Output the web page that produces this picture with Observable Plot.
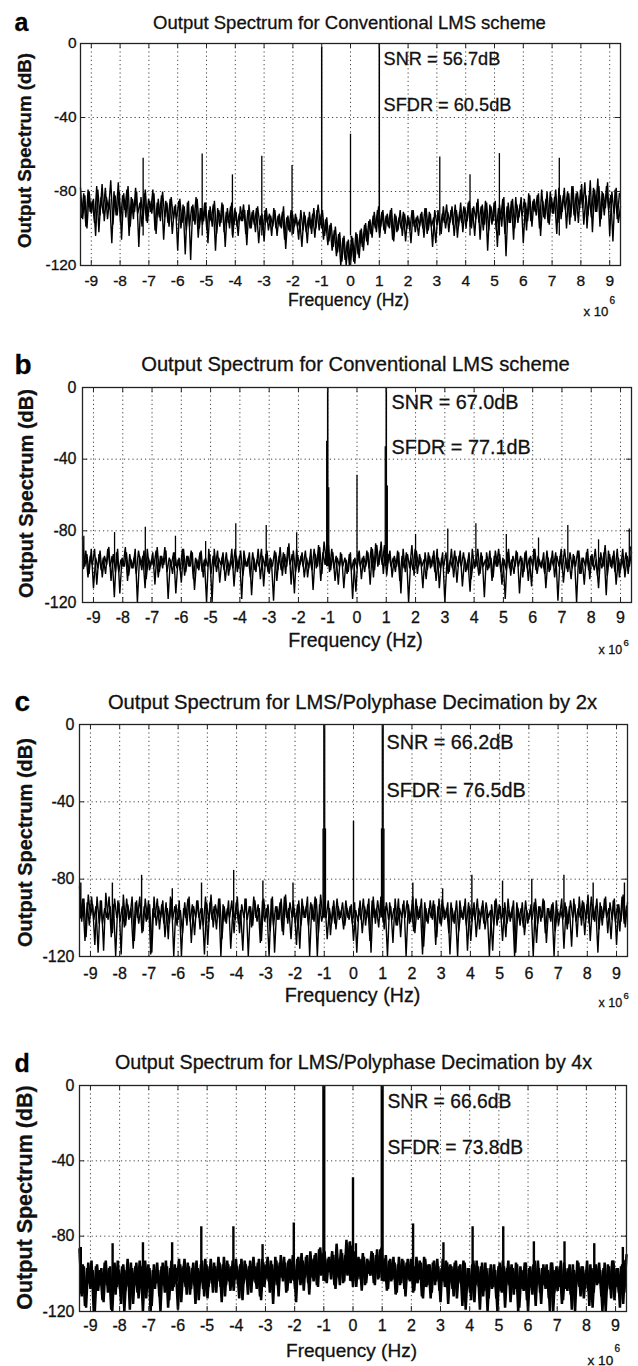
<!DOCTYPE html>
<html><head><meta charset="utf-8">
<script src="https://cdn.jsdelivr.net/npm/d3@7"></script>
<script src="https://cdn.jsdelivr.net/npm/@observablehq/plot@0.6"></script>
<style>
html,body{margin:0;padding:0;background:#fff;}
#chart{width:638px;}
#chart svg{display:block;}
#chart svg text{stroke:#111;stroke-width:0.3px;}
</style></head><body><div id="chart"></div>
<script>
// ---------------- data ----------------
const xTicks = [-9,-8,-7,-6,-5,-4,-3,-2,-1,0,1,2,3,4,5,6,7,8,9];
const yTicks = [0,-40,-80,-120];
const yGrid = [-40,-80];
const xDomainMHz = [-9.375, 9.375];
const yDomainDb = [-120, 0];

const panelLetters = ["a","b","c","d"];
const panelTitles = [
  "Output Spectrum for Conventional LMS scheme",
  "Output Spectrum for Conventional LMS scheme",
  "Output Spectrum for LMS/Polyphase Decimation by 2x",
  "Output Spectrum for LMS/Polyphase Decimation by 4x"
];
const snrLabels = ["SNR = 56.7dB","SNR = 67.0dB","SNR = 66.2dB","SNR = 66.6dB"];
const sfdrLabels = ["SFDR = 60.5dB","SFDR = 77.1dB","SFDR = 76.5dB","SFDR = 73.8dB"];
const yAxisLabel = "Output Spectrum (dB)";
const xAxisLabel = "Frequency (Hz)";
const xScaleLabel = "x 10";
const xScaleExp = "6";

// noise floor: even bins every 0.075 MHz from -9.375 MHz,
// odd bins every 0.075 MHz from -9.3375 MHz
const noiseStartMHz = -9.375;
const noiseOddStartMHz = -9.3375;
const noiseStepMHz = 0.075;

const noiseA = [
-78,-95,-82,-100,-80,-92,-84,-104,-79,-93,
-76,-96,-83,-90,-74,-98,-82,-93,-80,-106,
-81,-94,-77,-99,-84,-91,-80,-110,-83,-95,
-79,-97,-85,-92,-81,-103,-84,-96,-80,-94,
-86,-99,-83,-95,-87,-112,-84,-97,-88,-101,
-85,-117,-87,-98,-84,-100,-89,-96,-86,-108,
-88,-99,-85,-103,-90,-97,-87,-110,-89,-100,
-86,-98,-91,-104,-88,-96,-90,-109,-87,-100,
-90,-102,-88,-98,-92,-107,-89,-101,-93,-99,
-90,-104,-92,-100,-88,-111,-93,-102,-91,-99,
-94,-106,-90,-101,-93,-108,-91,-103,-89,-100,
-87,-98,-90,-104,-94,-107,-97,-110,-99,-113,
-102,-118,-104,-120,-106,-120,-105,-119,-103,-116,
-100,-112,-97,-109,-95,-105,-91,-102,-88,-99,
-90,-103,-92,-100,-89,-107,-93,-101,-90,-104,
-92,-100,-94,-108,-90,-102,-93,-99,-91,-105,
-89,-101,-92,-110,-90,-98,-93,-103,-88,-100,
-91,-97,-88,-104,-90,-99,-86,-102,-89,-96,
-85,-100,-88,-95,-84,-106,-87,-98,-86,-101,
-88,-96,-85,-110,-87,-99,-83,-115,-86,-97,
-84,-100,-87,-94,-83,-108,-86,-96,-82,-99,
-84,-93,-81,-104,-85,-95,-80,-98,-83,-92,
-79,-97,-82,-91,-78,-100,-81,-94,-77,-96,
-80,-90,-76,-98,-82,-93,-74,-102,-79,-91,
-77,-95,-81,-89,-75,-104,-80,-92,-78,-97,-88
];
const noiseA2 = [
-94,-81,-99,-79,-91,-85,-97,-77,-102,-83,
-92,-78,-95,-84,-108,-80,-93,-75,-97,-82,
-90,-79,-104,-83,-95,-78,-92,-86,-99,-81,
-96,-84,-91,-79,-101,-86,-94,-82,-106,-85,
-97,-84,-103,-88,-95,-85,-100,-87,-114,-86,
-99,-88,-96,-83,-105,-89,-98,-86,-101,-90,
-96,-87,-112,-89,-99,-86,-102,-91,-97,-88,
-105,-89,-99,-92,-96,-87,-103,-90,-100,-91,
-98,-89,-108,-93,-101,-90,-97,-92,-104,-89,
-100,-93,-99,-91,-106,-94,-101,-90,-103,-92,
-99,-95,-110,-91,-102,-94,-100,-92,-105,-90,
-101,-92,-106,-95,-109,-98,-112,-101,-115,-103,
-120,-105,-117,-107,-120,-104,-118,-102,-114,-101,
-110,-98,-107,-96,-103,-93,-100,-90,-105,-91,
-101,-93,-99,-90,-106,-92,-102,-94,-100,-91,
-107,-93,-101,-90,-99,-94,-104,-92,-100,-89,
-103,-91,-99,-94,-108,-90,-101,-92,-97,-87,
-102,-90,-98,-87,-105,-91,-97,-88,-100,-86,
-99,-89,-104,-86,-97,-88,-101,-85,-112,-87,
-98,-86,-101,-89,-95,-84,-103,-88,-97,-85,
-106,-83,-97,-87,-93,-84,-101,-81,-96,-85,
-91,-82,-100,-79,-94,-84,-97,-80,-92,-83,
-103,-78,-95,-82,-90,-80,-98,-77,-93,-81,
-97,-79,-89,-75,-100,-82,-94,-78,-91,-73,
-99,-80,-93,-77,-90,-82,-107,-79,-95,-81
];
const noiseB = [
-84,-100,-93,-104,-90,-112,-95,-101,-91,-106,
-94,-99,-89,-108,-93,-103,-90,-115,-95,-100,
-92,-105,-96,-101,-90,-120,-94,-102,-91,-107,
-95,-100,-92,-110,-89,-103,-94,-99,-91,-118,
-96,-104,-92,-101,-95,-109,-90,-103,-94,-100,
-92,-113,-96,-102,-91,-106,-95,-100,-93,-120,
-90,-103,-95,-99,-92,-108,-96,-102,-90,-111,
-94,-101,-91,-105,-96,-100,-92,-116,-95,-103,
-90,-107,-94,-100,-91,-104,-96,-119,-92,-102,
-89,-105,-93,-100,-87,-110,-91,-103,-94,-99,
-92,-106,-95,-101,-90,-113,-93,-100,-89,-104,
-86,-97,-88,-102,-92,-108,-95,-100,-93,-112,
-96,-103,-92,-118,-95,-101,-91,-107,-94,-100,
-92,-110,-90,-102,-88,-99,-86,-104,-89,-98,
-91,-106,-94,-100,-92,-115,-90,-103,-93,-101,
-88,-105,-91,-100,-95,-112,-92,-102,-94,-100,
-91,-108,-95,-101,-92,-120,-96,-103,-90,-106,
-94,-100,-91,-111,-95,-102,-92,-107,-96,-100,
-90,-104,-94,-117,-92,-101,-95,-106,-91,-100,
-93,-110,-96,-102,-90,-105,-94,-100,-92,-115,
-95,-103,-91,-108,-94,-100,-90,-104,-96,-101,
-92,-112,-95,-102,-91,-106,-94,-100,-90,-109,
-95,-103,-92,-101,-94,-120,-91,-104,-95,-100,
-90,-107,-93,-102,-96,-112,-92,-100,-88,-105,
-93,-101,-91,-110,-95,-102,-90,-106,-94,-100,-92
];
const noiseB2 = [
-101,-91,-106,-94,-99,-90,-110,-93,-102,-95,
-104,-90,-100,-94,-117,-92,-103,-96,-100,-89,
-108,-93,-101,-95,-104,-91,-99,-94,-112,-90,
-102,-96,-100,-91,-106,-94,-101,-89,-103,-95,
-99,-92,-115,-96,-102,-90,-105,-94,-100,-91,
-107,-95,-101,-92,-103,-96,-120,-90,-104,-94,
-100,-91,-109,-95,-102,-92,-105,-96,-101,-90,
-103,-94,-118,-91,-100,-95,-106,-92,-102,-96,
-100,-90,-111,-93,-103,-95,-100,-91,-108,-94,
-102,-92,-104,-89,-99,-93,-115,-90,-103,-94,
-100,-91,-106,-95,-102,-90,-101,-88,-108,-92,
-99,-87,-103,-90,-101,-94,-110,-92,-100,-95,
-104,-93,-102,-96,-114,-92,-100,-95,-103,-91,
-101,-89,-106,-87,-100,-91,-99,-88,-105,-93,
-100,-95,-103,-91,-108,-94,-101,-92,-120,-95,
-102,-90,-104,-93,-100,-96,-107,-92,-101,-94,
-103,-90,-112,-95,-100,-92,-104,-96,-101,-91,
-109,-94,-100,-92,-103,-96,-114,-90,-101,-95,
-105,-92,-100,-96,-102,-91,-108,-94,-100,-90,
-103,-95,-118,-92,-101,-96,-104,-91,-100,-94,
-106,-92,-101,-95,-111,-90,-102,-94,-100,-96,
-104,-91,-103,-95,-100,-92,-119,-94,-102,-90,
-101,-96,-107,-93,-100,-91,-104,-95,-110,-92,
-102,-94,-100,-90,-105,-95,-101,-92,-116,-91,
-100,-94,-103,-90,-106,-95,-101,-92,-104,-89
];
const noiseC = [
-84,-102,-90,-110,-88,-99,-93,-114,-89,-103,
-91,-117,-87,-101,-94,-108,-90,-100,-92,-119,
-88,-104,-93,-100,-89,-112,-91,-103,-95,-107,
-90,-101,-93,-118,-89,-104,-94,-100,-91,-110,
-95,-103,-90,-120,-93,-101,-96,-108,-92,-104,
-89,-113,-94,-100,-91,-106,-95,-119,-92,-102,
-88,-105,-93,-100,-90,-111,-94,-103,-91,-116,
-95,-101,-89,-108,-93,-100,-90,-120,-94,-104,
-91,-102,-95,-112,-90,-100,-93,-107,-89,-118,
-94,-101,-90,-109,-88,-103,-92,-100,-95,-114,
-91,-104,-94,-100,-89,-120,-93,-102,-90,-108,
-88,-100,-92,-111,-95,-103,-91,-106,-94,-100,
-92,-104,-95,-101,-93,-112,-96,-102,-91,-108,
-94,-100,-90,-118,-89,-103,-91,-100,-88,-106,
-92,-101,-94,-113,-90,-104,-95,-100,-91,-120,
-93,-102,-89,-108,-94,-100,-90,-115,-95,-103,
-91,-101,-93,-110,-90,-104,-94,-100,-92,-119,
-95,-103,-91,-107,-96,-101,-90,-117,-94,-102,
-92,-110,-95,-100,-91,-106,-96,-120,-93,-104,
-90,-101,-94,-112,-92,-103,-96,-100,-91,-118,
-95,-104,-92,-109,-96,-101,-93,-120,-90,-103,
-94,-100,-91,-113,-95,-102,-92,-107,-96,-100,
-90,-116,-94,-103,-91,-100,-93,-110,-89,-104,
-92,-101,-88,-112,-93,-102,-90,-106,-94,-100,
-89,-108,-92,-101,-90,-114,-93,-102,-88,-105,-92
];
const noiseC2 = [
-100,-90,-112,-92,-104,-89,-101,-94,-118,-91,
-103,-95,-100,-89,-110,-93,-120,-91,-102,-94,
-105,-90,-101,-95,-116,-92,-100,-89,-108,-94,
-102,-91,-119,-95,-100,-90,-106,-93,-103,-92,
-111,-89,-101,-94,-104,-91,-120,-95,-100,-90,
-102,-93,-109,-91,-100,-95,-104,-89,-114,-92,
-101,-94,-106,-90,-120,-93,-102,-95,-100,-91,
-108,-92,-103,-96,-117,-90,-101,-94,-105,-89,
-100,-93,-113,-91,-102,-95,-120,-90,-104,-94,
-101,-92,-107,-89,-100,-95,-111,-91,-103,-93,
-116,-90,-100,-94,-104,-92,-101,-89,-120,-93,
-102,-95,-100,-91,-109,-94,-103,-90,-101,-96,
-106,-91,-100,-94,-103,-92,-118,-95,-101,-90,
-104,-93,-112,-91,-100,-95,-105,-89,-102,-94,
-120,-92,-101,-95,-104,-90,-110,-93,-100,-91,
-103,-96,-107,-90,-101,-94,-119,-92,-102,-95,
-100,-91,-114,-94,-103,-90,-101,-95,-108,-92,
-102,-96,-120,-91,-100,-94,-104,-92,-112,-95,
-101,-90,-106,-94,-103,-92,-100,-96,-117,-91,
-104,-93,-101,-95,-110,-90,-102,-94,-120,-92,
-100,-95,-105,-91,-103,-96,-101,-92,-113,-94,
-102,-90,-108,-95,-100,-93,-120,-91,-104,-96,
-101,-92,-106,-94,-115,-90,-102,-95,-100,-91,
-109,-93,-103,-89,-101,-94,-118,-92,-104,-90,
-100,-95,-111,-91,-102,-93,-107,-89,-103,-94
];
const noiseD = [
-87,-112,-96,-118,-94,-108,-98,-120,-95,-106,
-97,-115,-93,-110,-96,-120,-94,-107,-98,-116,
-95,-109,-92,-119,-97,-106,-94,-113,-96,-120,
-93,-108,-97,-117,-95,-105,-98,-120,-94,-110,
-96,-114,-93,-107,-97,-119,-95,-104,-92,-111,
-96,-108,-94,-116,-97,-105,-93,-112,-95,-107,
-92,-110,-96,-104,-94,-115,-91,-106,-95,-109,
-93,-103,-96,-113,-92,-105,-95,-111,-93,-104,
-96,-108,-92,-114,-94,-103,-91,-110,-95,-106,
-93,-112,-90,-104,-94,-109,-92,-103,-95,-115,
-91,-106,-93,-102,-90,-111,-92,-104,-89,-107,
-86,-100,-88,-105,-91,-103,-90,-108,-93,-106,
-89,-104,-82,-100,-85,-107,-90,-103,-92,-109,
-91,-105,-93,-101,-89,-106,-87,-102,-86,-104,
-90,-108,-92,-103,-94,-110,-91,-105,-93,-112,
-92,-104,-95,-109,-91,-103,-94,-113,-92,-106,
-95,-110,-93,-104,-96,-115,-92,-107,-94,-103,
-96,-112,-93,-105,-95,-117,-94,-108,-97,-114,
-93,-106,-96,-119,-94,-109,-97,-113,-95,-107,
-98,-120,-94,-110,-96,-106,-93,-115,-97,-108,
-95,-118,-98,-109,-94,-120,-96,-111,-93,-106,
-97,-116,-95,-108,-98,-120,-94,-110,-96,-107,
-93,-114,-97,-109,-95,-119,-98,-106,-94,-112,
-96,-108,-93,-117,-97,-110,-95,-105,-98,-120,
-94,-109,-96,-113,-93,-107,-97,-118,-95,-110,-90
];
const noiseD2 = [
-110,-95,-117,-97,-105,-93,-120,-96,-109,-98,
-114,-94,-106,-97,-119,-95,-111,-93,-108,-96,
-120,-98,-107,-94,-116,-96,-110,-93,-105,-97,
-113,-95,-120,-98,-108,-94,-112,-96,-106,-93,
-118,-97,-109,-95,-104,-92,-115,-96,-107,-94,
-111,-97,-106,-93,-114,-95,-108,-92,-113,-96,
-105,-94,-110,-91,-107,-95,-112,-93,-104,-96,
-109,-92,-106,-95,-114,-93,-103,-96,-110,-91,
-105,-94,-112,-92,-107,-95,-104,-93,-116,-91,
-106,-94,-102,-91,-110,-93,-105,-90,-108,-92,
-103,-89,-109,-91,-105,-88,-102,-90,-106,-87,
-101,-89,-104,-92,-99,-88,-106,-84,-102,-87,
-105,-90,-101,-83,-104,-88,-107,-91,-103,-89,
-106,-92,-100,-88,-105,-90,-103,-87,-101,-92,
-109,-93,-104,-91,-111,-95,-106,-92,-108,-94,
-103,-92,-110,-96,-105,-93,-112,-91,-107,-95,
-113,-94,-106,-92,-109,-97,-104,-93,-116,-95,
-108,-94,-113,-96,-106,-93,-119,-97,-110,-95,
-115,-93,-107,-96,-112,-94,-120,-97,-108,-95,
-113,-96,-109,-93,-118,-97,-106,-95,-111,-94,
-120,-96,-108,-94,-114,-97,-107,-95,-117,-93,
-110,-97,-106,-95,-113,-94,-120,-98,-109,-96,
-116,-94,-108,-97,-111,-95,-120,-93,-107,-96,
-113,-98,-109,-95,-118,-96,-106,-94,-112,-97,
-120,-95,-108,-93,-114,-97,-110,-96,-116,-93
];

// discrete spurs (MHz, dB)
const spurFreqA = [-7.2,-5.15,-4.1,-3.08,-2.03,0,3.1,4.15,5.17,7.25];
const spurDbA   = [-62,-59.7,-71,-61,-66,-49,-61.3,-71,-59.5,-62];
const spurFreqB = [-9.33,-8.28,-7.23,-6.2,-5.17,-4.14,-3.1,-2.06,-1.035,-0.965,0,0.965,1.035,2.0,3.1,4.06,5.1,6.2,7.2,8.25,9.3];
const spurDbB   = [-83,-81,-78,-83,-86,-76,-77,-81,-30,-56,-49,-33,-55,-82,-79,-76,-82,-84,-77,-85,-79];
const spurFreqC = [-9.33,-8.25,-7.25,-6.2,-5.2,-4.1,-3.1,-2.07,-1.04,-0.96,0,0.96,1.04,2.03,3.05,4.05,5.1,6.1,7.2,8.2,9.27];
const spurDbC   = [-82,-82,-78,-85,-82,-75.5,-81,-82,-54,-54,-50,-54,-54,-82,-85,-78,-81,-80,-78,-82,-82];
const spurFreqD = [-9.33,-8.24,-7.2,-6.2,-5.2,-4.1,-3.1,-2.03,-0.1,0,0.1,2.06,3.1,4.1,5.15,6.2,7.25,8.27,9.25];
const spurDbD   = [-86,-84,-83.5,-83.5,-75,-75,-84.5,-73,-83,-49,-84,-73.5,-83.5,-75,-75,-83,-83,-84,-86];

// fundamental tones (MHz, dB)
const toneFreqA = [-1,1];
const toneDbA   = [-2,0];
const toneFreqB = [-1,1];
const toneDbB   = [0,0];
const toneFreqC = [-1.015,-0.985,0.985,1.015];
const toneDbC   = [0,0,0,0];
const toneFreqD = [-1,1];
const toneDbD   = [0,0];

// ---------------- layout / style ----------------
const FONT = "'Liberation Sans', Arial, Helvetica, sans-serif";
const layouts = [
  {h:340, mt:43, mr:18, mb:75, ml:80, xPad:9, yPad:4, tickFs:15.5,
   letter:{x:14,y:30,fs:25}, title:{x:349,y:28,fs:18.5}, ylab:{x:25,y:150,fs:18.7},
   snr:{x:383,y:64}, sfdr:{x:383,y:110}, annFs:18.2, freq:{x:348,y:305,fs:17.6},
   x10:{x:583,y:315,fs:13.2}, exp:{x:609,y:303,fs:10},
   noiseW:1.4, spurW:1.3, toneW:1.5, spurBase:-104, toneBase:-100},
  {h:350, mt:47, mr:7, mb:88, ml:82, xPad:9, yPad:6, tickFs:16,
   letter:{x:14,y:33,fs:28}, title:{x:355,y:30,fs:20.2}, ylab:{x:26,y:153,fs:20},
   snr:{x:391,y:68}, sfdr:{x:391,y:113}, annFs:19.8, freq:{x:355,y:306,fs:19.5},
   x10:{x:598,y:313,fs:12.5}, exp:{x:623,y:305,fs:9.5},
   noiseW:1.4, spurW:1.3, toneW:1.6, spurBase:-100, toneBase:-100},
  {h:340, mt:34, mr:11, mb:74, ml:79, xPad:11, yPad:5, tickFs:16,
   letter:{x:14,y:20,fs:28}, title:{x:352,y:18,fs:20.2}, ylab:{x:25,y:152,fs:20},
   snr:{x:386,y:58}, sfdr:{x:386,y:106}, annFs:19.8, freq:{x:352,y:311,fs:19.7},
   x10:{x:598,y:316,fs:12.5}, exp:{x:623,y:308,fs:9.5},
   noiseW:1.4, spurW:1.4, toneW:1.3, spurBase:-100, toneBase:-100},
  {h:336, mt:55, mr:12, mb:55, ml:79, xPad:8, yPad:5, tickFs:16,
   letter:{x:14,y:41,fs:25}, title:{x:353,y:38,fs:19.7}, ylab:{x:25,y:167,fs:21.5},
   snr:{x:387,y:77}, sfdr:{x:387,y:123}, annFs:19.3, freq:{x:351,y:326,fs:19},
   x10:{x:587,y:334,fs:13.6}, exp:{x:614,y:321,fs:10},
   noiseW:2.5, spurW:2.4, toneW:3.2, spurBase:-104, toneBase:-104}
];

const noiseSets = [[noiseA, noiseA2],[noiseB, noiseB2],[noiseC, noiseC2],[noiseD, noiseD2]];
const spurSets = [[spurFreqA, spurDbA],[spurFreqB, spurDbB],[spurFreqC, spurDbC],[spurFreqD, spurDbD]];
const toneSets = [[toneFreqA, toneDbA],[toneFreqB, toneDbB],[toneFreqC, toneDbC],[toneFreqD, toneDbD]];

function makePanel(k) {
  const P = layouts[k];
  const W = 638;
  const innerW = W - P.ml - P.mr, innerH = P.h - P.mt - P.mb;
  const at = (x, y) => ({frameAnchor: "top-left", dx: x - P.ml, dy: y - P.mt});
  const even = noiseSets[k][0].map((v, i) => ({f: noiseStartMHz + i * noiseStepMHz, db: v}));
  const odd = noiseSets[k][1].map((v, i) => ({f: noiseOddStartMHz + i * noiseStepMHz, db: v}));
  const spurs = spurSets[k][0].map((f, i) => ({f, db: spurSets[k][1][i]}));
  const tones = toneSets[k][0].map((f, i) => ({f, db: toneSets[k][1][i]}));
  const tdx = 5 * (xDomainMHz[1] - xDomainMHz[0]) / innerW;
  const tdy = 5 * (yDomainDb[1] - yDomainDb[0]) / innerH;
  const ink = "#111";
  const lineOpts = {x: "f", y: "db", stroke: "#000", strokeWidth: P.noiseW, strokeLinejoin: "miter", strokeMiterlimit: 1.5};
  return Plot.plot({
    width: W, height: P.h,
    marginTop: P.mt, marginRight: P.mr, marginBottom: P.mb, marginLeft: P.ml,
    style: {fontFamily: FONT, fontSize: P.tickFs + "px", color: ink, background: "#fff", overflow: "visible"},
    x: {domain: xDomainMHz, ticks: xTicks, tickFormat: d => String(d), tickSize: 0, tickPadding: P.xPad, label: null},
    y: {domain: yDomainDb, ticks: yTicks, tickFormat: d => String(d), tickSize: 0, tickPadding: P.yPad, label: null},
    marks: [
      Plot.ruleX(xTicks, {stroke: "#444", strokeWidth: 1, strokeDasharray: "1.2,3"}),
      Plot.ruleY(yGrid, {stroke: "#444", strokeWidth: 1, strokeDasharray: "1.2,3"}),
      Plot.line(even, lineOpts),
      Plot.line(odd, lineOpts),
      Plot.ruleX(spurs, {x: "f", y1: P.spurBase, y2: "db", stroke: "#000", strokeWidth: P.spurW}),
      Plot.ruleX(tones, {x: "f", y1: P.toneBase, y2: "db", stroke: "#000", strokeWidth: P.toneW}),
      Plot.frame({stroke: "#222", strokeWidth: 1.3}),
      Plot.ruleX(xTicks, {y1: yDomainDb[0], y2: yDomainDb[0] + tdy, stroke: "#222"}),
      Plot.ruleX(xTicks, {y1: yDomainDb[1], y2: yDomainDb[1] - tdy, stroke: "#222"}),
      Plot.ruleY(yGrid, {x1: xDomainMHz[0], x2: xDomainMHz[0] + tdx, stroke: "#222"}),
      Plot.ruleY(yGrid, {x1: xDomainMHz[1], x2: xDomainMHz[1] - tdx, stroke: "#222"}),
      Plot.text([panelLetters[k]], {...at(P.letter.x, P.letter.y), textAnchor: "start", lineAnchor: "bottom", fontSize: P.letter.fs, fontWeight: "bold", fill: "#000"}),
      Plot.text([panelTitles[k]], {...at(P.title.x, P.title.y), textAnchor: "middle", lineAnchor: "bottom", fontSize: P.title.fs, fill: ink}),
      Plot.text([yAxisLabel], {...at(P.ylab.x, P.ylab.y), textAnchor: "middle", lineAnchor: "middle", rotate: -90, fontSize: P.ylab.fs, fontWeight: "bold", fill: ink}),
      Plot.text([snrLabels[k]], {...at(P.snr.x, P.snr.y), textAnchor: "start", lineAnchor: "bottom", fontSize: P.annFs, fill: ink}),
      Plot.text([sfdrLabels[k]], {...at(P.sfdr.x, P.sfdr.y), textAnchor: "start", lineAnchor: "bottom", fontSize: P.annFs, fill: ink}),
      Plot.text([xAxisLabel], {...at(P.freq.x, P.freq.y), textAnchor: "middle", lineAnchor: "bottom", fontSize: P.freq.fs, fill: ink}),
      Plot.text([xScaleLabel], {...at(P.x10.x, P.x10.y), textAnchor: "start", lineAnchor: "bottom", fontSize: P.x10.fs, fill: ink}),
      Plot.text([xScaleExp], {...at(P.exp.x, P.exp.y), textAnchor: "start", lineAnchor: "bottom", fontSize: P.exp.fs, fill: ink})
    ]
  });
}

const root = document.getElementById("chart");
for (let k = 0; k < 4; k++) root.appendChild(makePanel(k));
</script>
</body></html>
